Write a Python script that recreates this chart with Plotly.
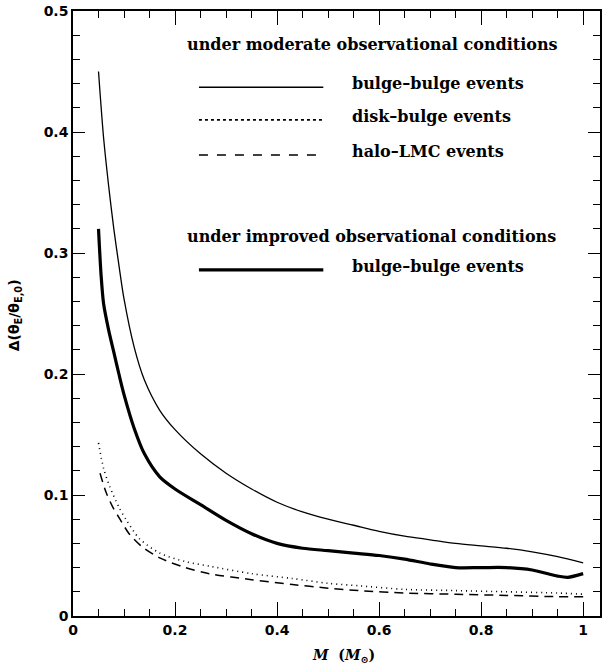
import plotly.graph_objects as go

# Lens mass M (solar masses) and fractional uncertainty of the Einstein angle
mass_bb = [0.05, 0.06, 0.07, 0.08, 0.09, 0.10, 0.12, 0.14, 0.17, 0.20, 0.25, 0.30,
           0.35, 0.40, 0.45, 0.50, 0.55, 0.60, 0.65, 0.70, 0.75, 0.80, 0.85, 0.90,
           0.95, 1.00]
bulge_moderate = [0.450, 0.395, 0.355, 0.320, 0.290, 0.262, 0.222, 0.195, 0.170, 0.154,
                  0.134, 0.118, 0.105, 0.094, 0.086, 0.080, 0.075, 0.070, 0.066, 0.063,
                  0.060, 0.058, 0.056, 0.053, 0.049, 0.044]

mass_imp = [0.05, 0.055, 0.06, 0.07, 0.08, 0.09, 0.10, 0.12, 0.14, 0.17, 0.20, 0.25,
            0.30, 0.35, 0.40, 0.45, 0.50, 0.55, 0.60, 0.65, 0.70, 0.75, 0.80, 0.85,
            0.90, 0.95, 0.97, 1.00]
bulge_improved = [0.320, 0.282, 0.258, 0.236, 0.218, 0.200, 0.183, 0.155, 0.134, 0.115,
                  0.105, 0.092, 0.079, 0.068, 0.060, 0.056, 0.054, 0.052, 0.050, 0.047,
                  0.043, 0.040, 0.040, 0.040, 0.038, 0.033, 0.032, 0.035]

mass_disk = [0.05, 0.06, 0.072, 0.09, 0.105, 0.13, 0.17, 0.22, 0.27, 0.35, 0.43, 0.50,
             0.56, 0.65, 0.75, 0.85, 0.95, 1.00]
disk_bulge = [0.143, 0.122, 0.107, 0.090, 0.079, 0.064, 0.052, 0.045, 0.041, 0.035,
              0.031, 0.027, 0.025, 0.022, 0.021, 0.020, 0.019, 0.018]

mass_halo = [0.053, 0.065, 0.078, 0.092, 0.11, 0.136, 0.17, 0.22, 0.267, 0.35, 0.43,
             0.50, 0.56, 0.65, 0.75, 0.85, 0.95, 1.00]
halo_lmc = [0.118, 0.102, 0.090, 0.080, 0.068, 0.057, 0.048, 0.040, 0.035, 0.030,
            0.026, 0.023, 0.021, 0.019, 0.018, 0.017, 0.016, 0.016]

x_ticks = [0, 0.2, 0.4, 0.6, 0.8, 1]
x_tick_text = ["0", "0.2", "0.4", "0.6", "0.8", "1"]
y_ticks = [0, 0.1, 0.2, 0.3, 0.4, 0.5]
y_tick_text = ["0", "0.1", "0.2", "0.3", "0.4", "0.5"]

x_title = "<b><i>M</i>  (<i>M</i><sub>\u2299</sub>)</b>"
y_title = "<b>\u0394(\u03b8<sub>E</sub>/\u03b8<sub>E,0</sub>)</b>"
legend_header_1 = "under moderate observational conditions"
legend_header_2 = "under improved observational conditions"
legend_labels = ["bulge\u2013bulge events", "disk\u2013bulge events",
                 "halo\u2013LMC events", "bulge\u2013bulge events"]

SERIF = "DejaVu Serif"
INK = "black"

fig = go.Figure()
fig.add_trace(go.Scatter(x=mass_bb, y=bulge_moderate, mode="lines",
                         line=dict(color=INK, width=1.3, shape="spline", smoothing=0.8)))
fig.add_trace(go.Scatter(x=mass_imp, y=bulge_improved, mode="lines",
                         line=dict(color=INK, width=3.2, shape="spline", smoothing=0.8)))
fig.add_trace(go.Scatter(x=mass_disk, y=disk_bulge, mode="lines",
                         line=dict(color=INK, width=1.6, dash="1px,4px",
                                   shape="spline", smoothing=0.8)))
fig.add_trace(go.Scatter(x=mass_halo, y=halo_lmc, mode="lines",
                         line=dict(color=INK, width=1.5, dash="9px,6px",
                                   shape="spline", smoothing=0.8)))

# Hand-made key: sample strokes in paper coordinates plus text labels
key_styles = [dict(width=1.3, dash="solid"), dict(width=1.6, dash="dot"),
              dict(width=1.5, dash="dash"), dict(width=3.2, dash="solid")]
key_rows = [0.874, 0.820, 0.762, 0.572]
for style, row, label in zip(key_styles, key_rows, legend_labels):
    fig.add_shape(type="line", xref="paper", yref="paper", x0=0.239, x1=0.475,
                  y0=row, y1=row, line=dict(color=INK, **style))
    fig.add_annotation(xref="paper", yref="paper", x=0.525, y=row + 0.006, text=label,
                       showarrow=False, xanchor="left", yanchor="middle",
                       font=dict(family=SERIF, size=16, color=INK, weight="bold"))
for text, row in [(legend_header_1, 0.944), (legend_header_2, 0.628)]:
    fig.add_annotation(xref="paper", yref="paper", x=0.212, y=row, text=text,
                       showarrow=False, xanchor="left", yanchor="middle",
                       font=dict(family=SERIF, size=16, color=INK, weight="bold"))

# Axis titles placed as paper-anchored text
fig.add_annotation(xref="paper", yref="paper", x=0.513, y=-0.066, text=x_title,
                   showarrow=False, xanchor="center", yanchor="middle",
                   font=dict(family=SERIF, size=14, color=INK))
fig.add_annotation(xref="paper", yref="paper", x=-0.11, y=0.497, text=y_title,
                   showarrow=False, xanchor="center", yanchor="middle", textangle=-90,
                   font=dict(family="DejaVu Sans", size=14, color=INK))

frame = dict(ticks="inside", tickcolor=INK, tickwidth=1.3, mirror="ticks",
             showline=True, linewidth=1.5, linecolor=INK, showgrid=False, zeroline=False)
tick_font = dict(family="DejaVu Sans", size=14, color=INK, weight="bold")

fig.update_xaxes(frame)
fig.update_xaxes(range=[0, 1.033], tickmode="array", tickvals=x_ticks,
                 ticktext=x_tick_text, ticklen=14, tickfont=tick_font,
                 minor=dict(ticks="inside", ticklen=7, tickcolor=INK, dtick=0.05))
fig.update_yaxes(frame)
fig.update_yaxes(range=[0, 0.5], tickmode="array", tickvals=y_ticks,
                 ticktext=y_tick_text, ticklen=12, tickfont=tick_font,
                 minor=dict(ticks="inside", ticklen=7, tickcolor=INK, dtick=0.02))

fig.update_layout(width=605, height=667, showlegend=False,
                  margin=dict(l=73, r=3, t=11, b=51),
                  plot_bgcolor="white", paper_bgcolor="white")

fig.write_html("out.html")
